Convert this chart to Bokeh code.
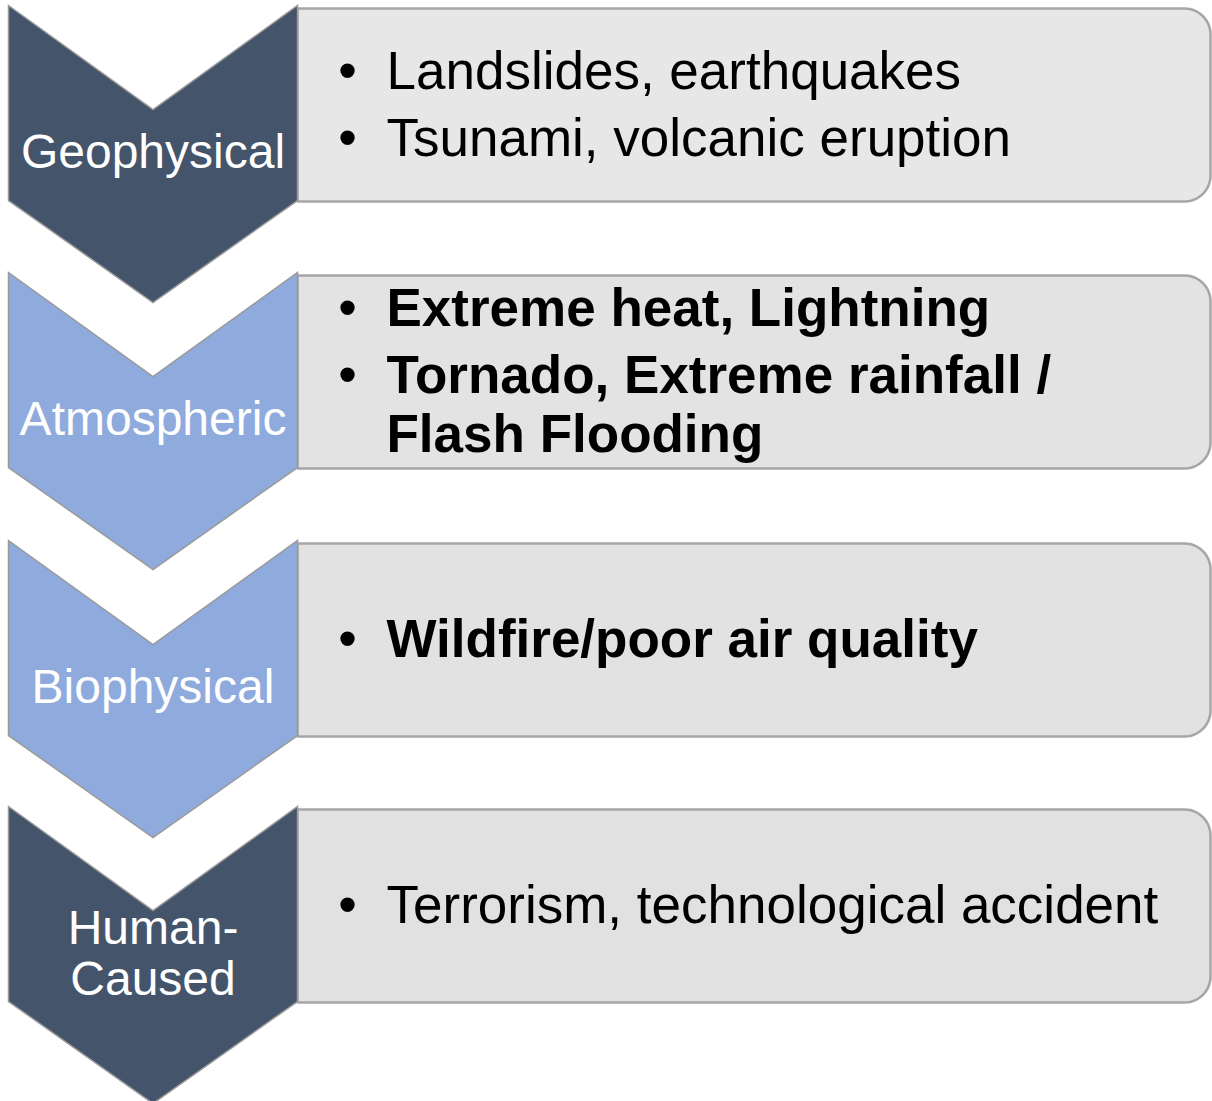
import numpy as np
from bokeh.plotting import figure
from bokeh.models import Range1d, ColumnDataSource
from bokeh.embed import file_html
from bokeh.resources import INLINE
from bokeh.core.properties import value

# ---------------- data ----------------
category_lines = [["Geophysical"], ["Atmospheric"], ["Biophysical"], ["Human-", "Caused"]]
items = [
    [["Landslides, earthquakes"], ["Tsunami, volcanic eruption"]],
    [["Extreme heat, Lightning"], ["Tornado, Extreme rainfall /", "Flash Flooding"]],
    [["Wildfire/poor air quality"]],
    [["Terrorism, technological accident"]],
]
item_bold = [False, True, True, False]
chevron_colors = ["#44546a", "#8faadc", "#8faadc", "#44546a"]
box_colors = ["#e7e7e7", "#e3e3e3", "#e2e2e2", "#e1e1e1"]

# ---------------- layout (page pixels) ----------------
row_top = [5, 272, 540, 806]
CH_L, CH_R = 8, 297
CH_MID = (CH_L + CH_R) / 2
NOTCH, SIDE, TIP = 104, 195, 297
BOX_R, RAD = 1210, 26
BOX_TOP_OFF, BOX_BOT_OFF = 3, 196
LABEL_BASE, LABEL_STEP = 163, 51
ITEM_BASE, LINE_STEP, BULLET_STEP = 117, 59, 67
BULLET_X, TEXT_X = 347, 386
LABEL_FS, ITEM_FS = 48, 53
TEXT_DY = -0.35  # baseline correction, in em
FONT = "Liberation Sans"

W, H = 1212, 1101
p = figure(width=W, height=H, x_range=Range1d(0, W), y_range=Range1d(H, 0),
           output_backend="svg", toolbar_location=None, min_border=0)
p.axis.visible = False
p.grid.visible = False
p.outline_line_color = None
p.background_fill_color = "white"
p.border_fill_color = "white"

# boxes
bxs, bys = [], []
for y0 in row_top:
    t, b = y0 + BOX_TOP_OFF, y0 + BOX_BOT_OFF
    a1 = np.linspace(-np.pi / 2, 0, 16)
    a2 = np.linspace(0, np.pi / 2, 16)
    xs = [CH_R] + list(BOX_R - RAD + RAD * np.cos(a1)) + list(BOX_R - RAD + RAD * np.cos(a2)) + [CH_R]
    ys = [t] + list(t + RAD + RAD * np.sin(a1)) + list(b - RAD + RAD * np.sin(a2)) + [b]
    bxs.append(xs)
    bys.append(ys)
p.patches(xs="xs", ys="ys", source=ColumnDataSource(dict(xs=bxs, ys=bys, c=box_colors)),
          fill_color="c", line_color="#a6a6a6", line_width=2.5)

# chevrons
cxs, cys = [], []
for y0 in row_top:
    cxs.append([CH_L, CH_MID, CH_R, CH_R, CH_MID, CH_L])
    cys.append([y0, y0 + NOTCH, y0, y0 + SIDE, y0 + TIP, y0 + SIDE])
p.patches(xs="xs", ys="ys", source=ColumnDataSource(dict(xs=cxs, ys=cys, c=chevron_colors)),
          fill_color="c", line_color="#9a9a9a", line_width=1.5, line_join="miter")

# chevron labels
lx, ly, lt = [], [], []
for y0, lines in zip(row_top, category_lines):
    n = len(lines)
    for i, s in enumerate(lines):
        lx.append(CH_MID)
        ly.append(y0 + LABEL_BASE + (i - (n - 1) / 2) * LABEL_STEP + TEXT_DY * LABEL_FS)
        lt.append(s)
p.text(x="x", y="y", text="t", source=ColumnDataSource(dict(x=lx, y=ly, t=lt)),
       text_font=value(FONT), text_font_size=f"{LABEL_FS}px", text_color="white",
       text_align="center", text_baseline="alphabetic")

# items
tx, ty, tt, ts = [], [], [], []
bx, by = [], []
for y0, bullets, bold in zip(row_top, items, item_bold):
    offs = []
    cur = 0
    for bi, lines in enumerate(bullets):
        if bi > 0:
            cur += BULLET_STEP
        for li, s in enumerate(lines):
            if li > 0:
                cur += LINE_STEP
            offs.append((cur, s, li == 0))
    mid = (offs[0][0] + offs[-1][0]) / 2
    for o, s, first in offs:
        yy = y0 + ITEM_BASE + o - mid + TEXT_DY * ITEM_FS
        tx.append(TEXT_X)
        ty.append(yy)
        tt.append(s)
        ts.append("bold" if bold else "normal")
        if first:
            bx.append(BULLET_X)
            by.append(yy)
p.text(x="x", y="y", text="t", text_font_style="s",
       source=ColumnDataSource(dict(x=tx, y=ty, t=tt, s=ts)),
       text_font=value(FONT), text_font_size=f"{ITEM_FS}px", text_color="black",
       text_align="left", text_baseline="alphabetic")
p.text(x=bx, y=by, text=["\u2022"] * len(bx), text_font=value(FONT), text_font_size=f"{ITEM_FS}px",
       text_color="black", text_align="center", text_baseline="alphabetic")

open("out.html", "w").write(file_html(p, INLINE))
